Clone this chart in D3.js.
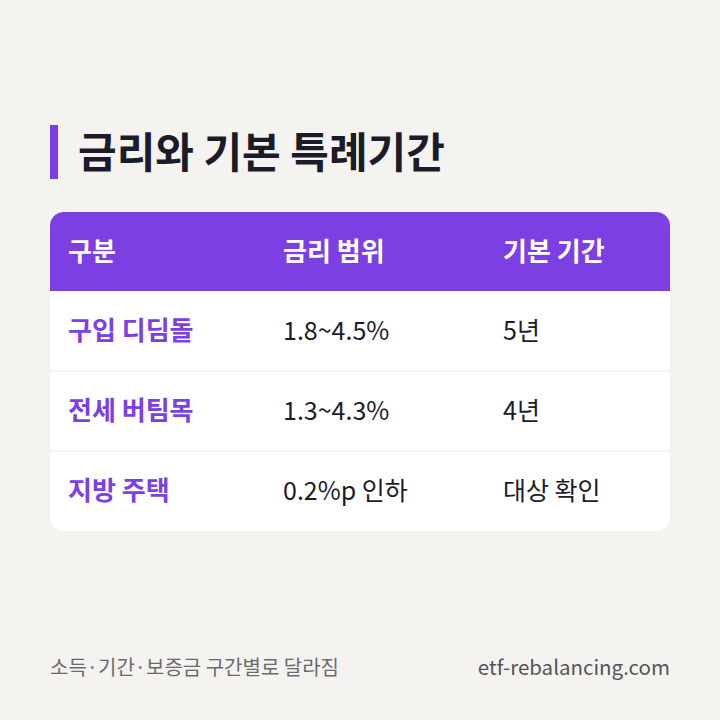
<!DOCTYPE html>
<html><head><meta charset="utf-8">
<script src="https://cdn.jsdelivr.net/npm/d3@7"></script>
<style>body{margin:0;background:#f4f3ef}</style>
</head><body>
<script>
const title = "금리와 기본 특례기간";
const headers = ["구분", "금리 범위", "기본 기간"];
const programs = ["구입 디딤돌", "전세 버팀목", "지방 주택"];
const rateRanges = ["1.8~4.5%", "1.3~4.3%", "0.2%p 인하"];
const periods = ["5년", "4년", "대상 확인"];
const footnote = "소득·기간·보증금 구간별로 달라짐";
const source = "etf-rebalancing.com";

const W = 720, H = 720, purple = "#7b3fe4";
const font = "'Noto Sans CJK KR', 'Noto Sans', sans-serif";
const svg = d3.select("body").append("svg").attr("width", W).attr("height", H)
  .style("font-family", font);
svg.append("rect").attr("width", W).attr("height", H).attr("fill", "#f4f3ef");

svg.append("rect").attr("x", 50).attr("y", 125).attr("width", 8).attr("height", 54).attr("fill", purple);
svg.append("text").attr("x", 78).attr("y", 168).text(title)
  .attr("font-size", 42).attr("font-weight", 700).attr("fill", "#1c1b29");

const tx = 50, tw = 620, hy = 212, hh = 79, rh = 80, r = 14;
const th = hh + rh * programs.length;
svg.append("defs").append("clipPath").attr("id", "c")
  .append("rect").attr("x", tx).attr("y", hy).attr("width", tw).attr("height", th).attr("rx", r);
const g = svg.append("g").attr("clip-path", "url(#c)");
g.append("rect").attr("x", tx).attr("y", hy).attr("width", tw).attr("height", th).attr("fill", "#fff");
g.append("rect").attr("x", tx).attr("y", hy).attr("width", tw).attr("height", hh).attr("fill", purple);

const colX = [68, 283, 503];
headers.forEach((h, i) => svg.append("text").attr("x", colX[i]).attr("y", hy + hh / 2 + 9)
  .text(h).attr("font-size", 26).attr("font-weight", 700).attr("fill", "#fff"));

const y = d3.scaleBand().domain(programs).range([hy + hh, hy + th]);
programs.forEach((p, i) => {
  const yy = y(p);
  if (i > 0) svg.append("line").attr("x1", tx).attr("x2", tx + tw).attr("y1", yy).attr("y2", yy)
    .attr("stroke", "#e8e6ee");
  const cy = yy + y.bandwidth() / 2 + 9;
  svg.append("text").attr("x", colX[0]).attr("y", cy).text(p)
    .attr("font-size", 26).attr("font-weight", 700).attr("fill", purple);
  svg.append("text").attr("x", colX[1]).attr("y", cy).text(rateRanges[i])
    .attr("font-size", 25).attr("fill", "#1c1b29");
  svg.append("text").attr("x", colX[2]).attr("y", cy).text(periods[i])
    .attr("font-size", 25).attr("fill", "#1c1b29");
});

svg.append("text").attr("x", 50).attr("y", 675).text(footnote)
  .attr("font-size", 20).attr("fill", "#6b6a70");
svg.append("text").attr("x", 670).attr("y", 675).attr("text-anchor", "end").text(source)
  .attr("font-size", 20.5).attr("fill", "#55545a");
</script>
</body></html>
